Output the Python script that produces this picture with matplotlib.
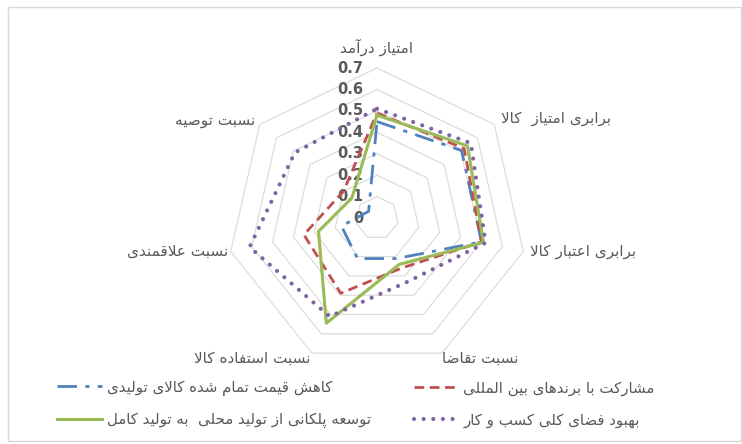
import numpy as np
import matplotlib
matplotlib.use('Agg')
import matplotlib.pyplot as plt
from matplotlib.patches import Rectangle

plt.rcParams['font.family'] = ['DejaVu Sans']

# محورها و داده‌ها
axis_labels = ['امتیاز درآمد', 'برابری امتیاز  کالا', 'برابری اعتبار کالا', 'نسبت تقاضا',
               'نسبت استفاده کالا', 'نسبت علاقمندی', 'نسبت توصیه']
series_names = ['کاهش قیمت تمام شده کالای تولیدی', 'مشارکت با برندهای بین المللی',
                'توسعه پلکانی از تولید محلی  به تولید کامل', 'بهبود فضای کلی کسب و کار']
blue_vals = [0.45, 0.505, 0.50, 0.21, 0.21, 0.17, 0.05]
red_vals = [0.49, 0.52, 0.50, 0.26, 0.39, 0.35, 0.20]
green_vals = [0.48, 0.54, 0.51, 0.24, 0.545, 0.28, 0.15]
purple_vals = [0.51, 0.56, 0.52, 0.33, 0.51, 0.61, 0.49]
ticks = [0, 0.1, 0.2, 0.3, 0.4, 0.5, 0.6, 0.7]

# شکل‌دهی ساده حروف فارسی (matplotlib خودش این کار را نمی‌کند)
FORMS = {
    'ا': ('\uFE8D', '\uFE8E', None, None), 'آ': ('\uFE81', '\uFE82', None, None),
    'ب': ('\uFE8F', '\uFE90', '\uFE91', '\uFE92'), 'پ': ('\uFB56', '\uFB57', '\uFB58', '\uFB59'),
    'ت': ('\uFE95', '\uFE96', '\uFE97', '\uFE98'), 'ث': ('\uFE99', '\uFE9A', '\uFE9B', '\uFE9C'),
    'ج': ('\uFE9D', '\uFE9E', '\uFE9F', '\uFEA0'), 'چ': ('\uFB7A', '\uFB7B', '\uFB7C', '\uFB7D'),
    'ح': ('\uFEA1', '\uFEA2', '\uFEA3', '\uFEA4'), 'خ': ('\uFEA5', '\uFEA6', '\uFEA7', '\uFEA8'),
    'د': ('\uFEA9', '\uFEAA', None, None), 'ذ': ('\uFEAB', '\uFEAC', None, None),
    'ر': ('\uFEAD', '\uFEAE', None, None), 'ز': ('\uFEAF', '\uFEB0', None, None),
    'ژ': ('\uFB8A', '\uFB8B', None, None),
    'س': ('\uFEB1', '\uFEB2', '\uFEB3', '\uFEB4'), 'ش': ('\uFEB5', '\uFEB6', '\uFEB7', '\uFEB8'),
    'ص': ('\uFEB9', '\uFEBA', '\uFEBB', '\uFEBC'), 'ض': ('\uFEBD', '\uFEBE', '\uFEBF', '\uFEC0'),
    'ط': ('\uFEC1', '\uFEC2', '\uFEC3', '\uFEC4'), 'ظ': ('\uFEC5', '\uFEC6', '\uFEC7', '\uFEC8'),
    'ع': ('\uFEC9', '\uFECA', '\uFECB', '\uFECC'), 'غ': ('\uFECD', '\uFECE', '\uFECF', '\uFED0'),
    'ف': ('\uFED1', '\uFED2', '\uFED3', '\uFED4'), 'ق': ('\uFED5', '\uFED6', '\uFED7', '\uFED8'),
    'ک': ('\uFB8E', '\uFB8F', '\uFB90', '\uFB91'), 'گ': ('\uFB92', '\uFB93', '\uFB94', '\uFB95'),
    'ل': ('\uFEDD', '\uFEDE', '\uFEDF', '\uFEE0'), 'م': ('\uFEE1', '\uFEE2', '\uFEE3', '\uFEE4'),
    'ن': ('\uFEE5', '\uFEE6', '\uFEE7', '\uFEE8'), 'ه': ('\uFEE9', '\uFEEA', '\uFEEB', '\uFEEC'),
    'و': ('\uFEED', '\uFEEE', None, None), 'ی': ('\uFBFC', '\uFBFD', '\uFBFE', '\uFBFF'),
    'لا': ('\uFEFB', '\uFEFC', None, None), 'لآ': ('\uFEF5', '\uFEF6', None, None),
}


def shape(text):
    units = []
    i = 0
    while i < len(text):
        if text[i] == 'ل' and i + 1 < len(text) and text[i + 1] in 'اآ':
            units.append(text[i:i + 2])
            i += 2
        else:
            units.append(text[i])
            i += 1
    out = []
    for j, u in enumerate(units):
        if u not in FORMS:
            out.append(u)
            continue
        prev_joins = j > 0 and units[j - 1] in FORMS and FORMS[units[j - 1]][2] is not None
        dual = FORMS[u][2] is not None
        next_joins = dual and j + 1 < len(units) and units[j + 1] in FORMS
        if prev_joins and next_joins:
            out.append(FORMS[u][3])
        elif prev_joins:
            out.append(FORMS[u][1])
        elif next_joins:
            out.append(FORMS[u][2])
        else:
            out.append(FORMS[u][0])
    return ''.join(out)[::-1]


fig = plt.figure(figsize=(7.42, 4.44), dpi=100)
fig.patches.append(Rectangle((8 / 742, 3 / 444), 733 / 742, 434 / 444, transform=fig.transFigure,
                             fill=False, edgecolor='#d9d9d9', lw=1))

ax = fig.add_axes([227 / 742, 76 / 444, 300 / 742, 300 / 444], projection='polar')
ax.set_theta_offset(np.pi / 2)
ax.set_theta_direction(-1)
ax.set_ylim(0, 0.7)
ax.set_xticks([])
ax.set_yticks([])
ax.grid(False)
ax.spines['polar'].set_visible(False)

n = len(axis_labels)
angles = np.linspace(0, 2 * np.pi, n, endpoint=False)
closed = np.append(angles, angles[0])

for v in ticks[1:]:
    ax.plot(closed, [v] * (n + 1), color='#d9d9d9', lw=0.8, zorder=1, clip_on=False)

for v in ticks:
    ax.annotate(f'{v:g}', xy=(0, v), xytext=(-10, 0), textcoords='offset points',
                ha='right', va='center', fontsize=10.5, fontweight='bold', color='#595959')

label_pos = [((0, 15), 'center'), ((5, 4), 'left'), ((5, 0), 'left'), ((0, -4), 'left'),
             ((-1, -4), 'right'), ((-2, 0), 'right'), ((-3, 3), 'right')]
for a, lab, (off, ha) in zip(angles, axis_labels, label_pos):
    ax.annotate(shape(lab), xy=(a, 0.7), xytext=off, textcoords='offset points',
                ha=ha, va='center', fontsize=11, color='#595959')


def close(vals):
    return vals + vals[:1]


blue, = ax.plot(closed, close(blue_vals), color='#4f81bd', lw=2, dashes=(7, 3, 1.5, 3), zorder=3)
red, = ax.plot(closed, close(red_vals), color='#c0504d', lw=2, dashes=(3.5, 2), zorder=3)
green, = ax.plot(closed, close(green_vals), color='#9bbb59', lw=2.25, zorder=4)
purple, = ax.plot(closed, close(purple_vals), color='#8064a2', lw=3, dashes=(0.01, 2.3),
                  dash_capstyle='round', zorder=5)

leg_kw = dict(loc='center left', frameon=False, fontsize=10.8, handlelength=3.0,
              handletextpad=0.3, borderpad=0, borderaxespad=0, labelspacing=1.1,
              labelcolor='#595959')
fig.legend([blue, green], [shape(series_names[0]), shape(series_names[2])],
           bbox_to_anchor=(57 / 742, 1 - 404 / 444), **leg_kw)
fig.legend([red, purple], [shape(series_names[1]), shape(series_names[3])],
           bbox_to_anchor=(414 / 742, 1 - 404 / 444), **leg_kw)

fig.savefig('out.png', dpi=100, facecolor='white')
